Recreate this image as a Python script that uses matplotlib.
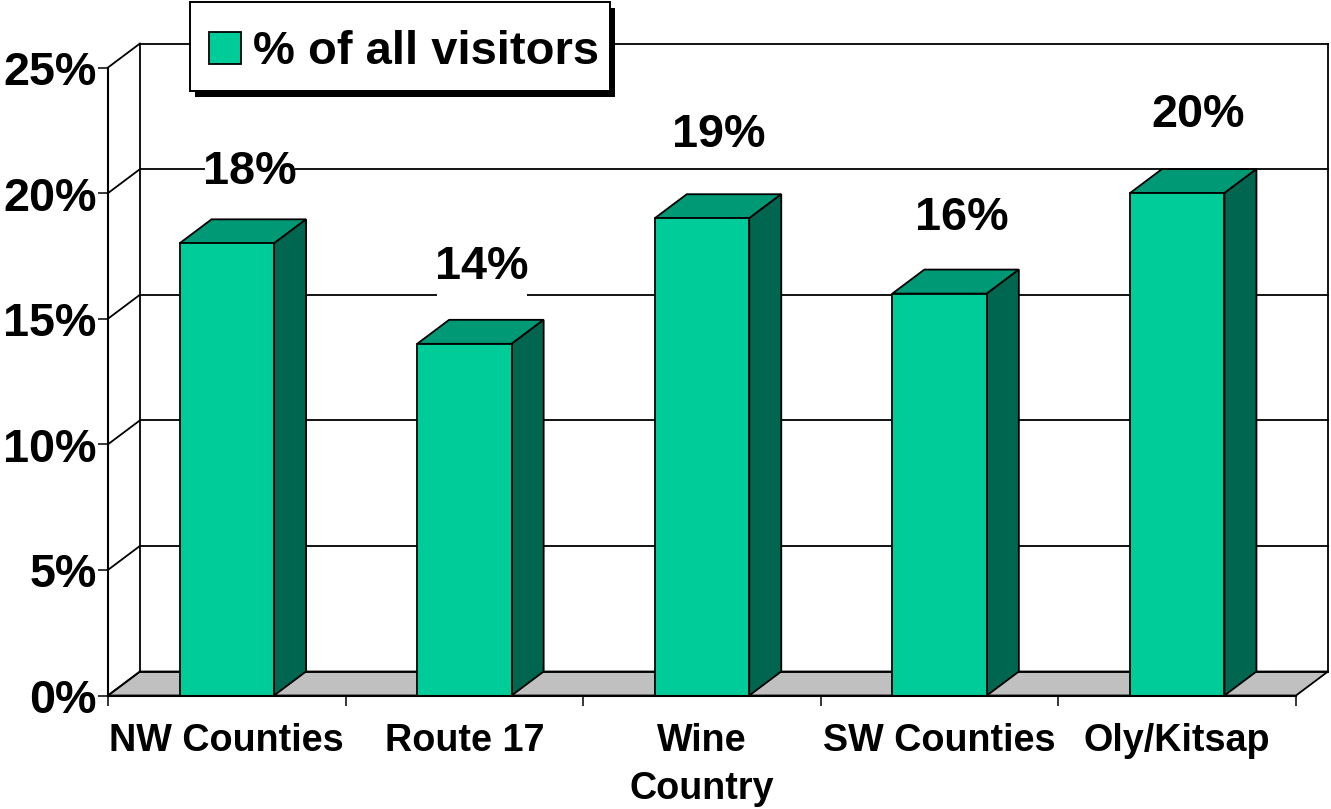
import matplotlib
matplotlib.use("Agg")
import matplotlib.pyplot as plt
from matplotlib.patches import Polygon, Rectangle
from matplotlib.transforms import ScaledTranslation

categories = ["NW Counties", "Route 17", "Wine\nCountry", "SW Counties", "Oly/Kitsap"]
values = [18, 14, 19, 16, 20]
labels = ["18%", "14%", "19%", "16%", "20%"]
series_name = "% of all visitors"
y_ticks = [0, 5, 10, 15, 20, 25]
y_tick_labels = ["0%", "5%", "10%", "15%", "20%", "25%"]

W, H = 1331, 809
L, R, B, T = 108, 1296, 695.5, 67.5
# layout of the value labels, relative to each bar centre
label_levels = [20.85, 17.05, 22.3, 19.0, 23.1]
label_shift_px = [22.7, 17.6, 17, 21.8, 21.3]

plt.rcParams["font.family"] = ["Liberation Sans", "DejaVu Sans"]
plt.rcParams["font.weight"] = "bold"

fig = plt.figure(figsize=(W / 100, H / 100), dpi=100, facecolor="white")
ax = fig.add_axes([L / W, 1 - B / H, (R - L) / W, (B - T) / H])
ax.set_xlim(0, 5)
ax.set_ylim(0, 25)
ax.patch.set_visible(False)

px_x = 5 / (R - L)
px_y = 25 / (B - T)
dx, dy = 32 * px_x, 24 * px_y
bar_w = 94.5 * px_x
LW = 1.3

for s in ("top", "right"):
    ax.spines[s].set_visible(False)
for s in ("left", "bottom"):
    ax.spines[s].set_linewidth(1.5)
    ax.spines[s].set_zorder(6)

# floor
ax.add_patch(Polygon([(0, 0), (5, 0), (5 + dx, dy), (dx, dy)], closed=True, fc="#C0C0C0",
                     ec="black", lw=LW, clip_on=False, zorder=1))
# back wall lines
for v in y_ticks:
    ax.plot([dx, 5 + dx], [v + dy, v + dy], color="black", lw=LW, clip_on=False, zorder=1.5)
    ax.plot([0, dx], [v, v + dy], color="black", lw=LW, clip_on=False, zorder=1.5)
ax.plot([dx, dx], [dy, 25 + dy], color="black", lw=LW, clip_on=False, zorder=1.5)
ax.plot([5 + dx, 5 + dx], [dy, 25 + dy], color="black", lw=LW, clip_on=False, zorder=1.5)

# bars
xs = [i + 0.5 for i in range(len(values))]
bars = ax.bar(xs, values, width=bar_w, color="#00CC99", edgecolor="black", linewidth=LW,
              zorder=4, label=series_name, clip_on=False)
for x, v in zip(xs, values):
    l, r = x - bar_w / 2, x + bar_w / 2
    ax.add_patch(Polygon([(l, v), (r, v), (r + dx, v + dy), (l + dx, v + dy)], closed=True,
                         fc="#009975", ec="black", lw=LW, clip_on=False, zorder=3))
    ax.add_patch(Polygon([(r, 0), (r + dx, dy), (r + dx, v + dy), (r, v)], closed=True,
                         fc="#006650", ec="black", lw=LW, clip_on=False, zorder=3))

# value labels, each with a white backing box that interrupts the gridlines
for x, lv, t, sh in zip(xs, label_levels, labels, label_shift_px):
    shift = ScaledTranslation(sh / 100, 0, fig.dpi_scale_trans)
    tr = ax.transData + shift
    ax.text(x, lv, t, transform=tr, ha="center", va="center", fontsize=33.7,
            fontweight="bold", color="black", zorder=5, clip_on=False)
    px, py = tr.transform((x, lv))
    ax.add_patch(Rectangle((px - 45, py - 31), 90, 62, transform=None, fc="white", ec="none",
                           zorder=2, clip_on=False))

# axes
ax.set_yticks(y_ticks)
ax.set_yticklabels(y_tick_labels, fontsize=33.7, fontweight="bold")
ax.tick_params(axis="y", length=7.5, width=1.1, pad=0.7, color="black")
down = ScaledTranslation(0, -0.5 / 100, fig.dpi_scale_trans)
for t in ax.get_yticklabels():
    t.set_transform(t.get_transform() + down)
ax.set_xticks(range(6))
ax.set_xticklabels([""] * 6)
ax.tick_params(axis="x", which="major", length=7.5, width=1.1)
ax.set_xticks(xs, minor=True)
ax.set_xticklabels(categories, minor=True, fontsize=27.2, fontweight="bold", linespacing=1.43)
ax.tick_params(axis="x", which="minor", length=0, pad=20)

# legend frame with a solid drop shadow, drawn in figure pixels
ax.add_patch(Rectangle((194.5, H - 97), 420, 89, transform=None, fc="black", ec="black", lw=0,
                       zorder=9, clip_on=False))
ax.add_patch(Rectangle((189.5, H - 91), 420.5, 89, transform=None, fc="white", ec="black", lw=1.4,
                       zorder=9.1, clip_on=False))
leg = ax.legend(handles=[bars[0]], labels=[series_name], loc="upper left",
                bbox_to_anchor=(208.5 / W, 1 - 30.5 / H), bbox_transform=fig.transFigure,
                borderaxespad=0, borderpad=0, handlelength=0.68, handleheight=0.68,
                handletextpad=0.27, fontsize=33.9, frameon=False)
leg.set_zorder(10)

fig.savefig("out.png", dpi=100, facecolor="white")
